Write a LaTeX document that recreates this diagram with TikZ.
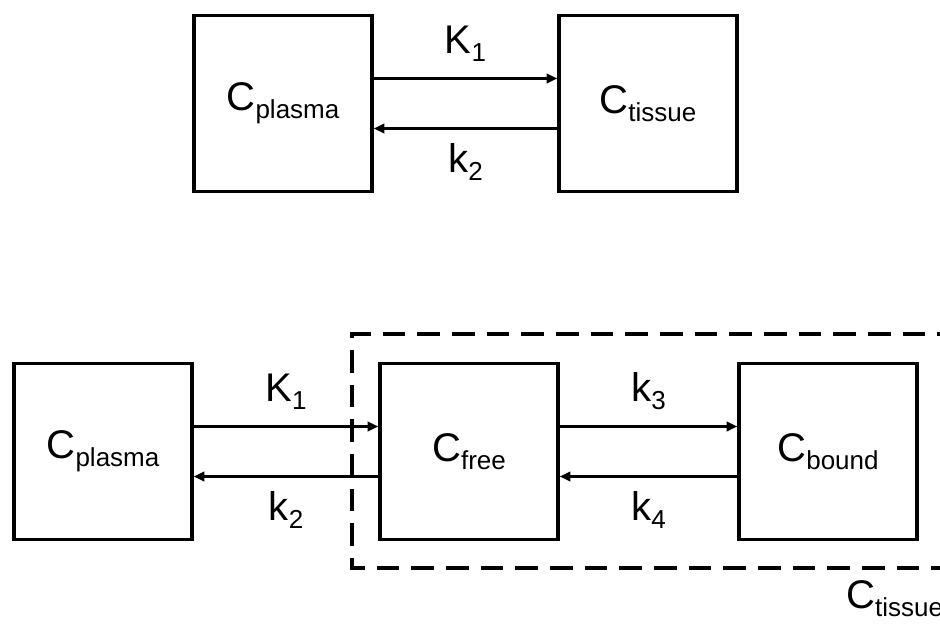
\documentclass[tikz,border=0pt]{standalone}
\usepackage{fontspec}
\setmainfont{Liberation Sans}
\usepackage{tikz}
\usetikzlibrary{arrows.meta, positioning}

\newcommand{\subtxt}[1]{\raisebox{-6pt}{\fontsize{19.5}{22}\selectfont #1}}
\newcommand{\conc}[1]{C\subtxt{#1}}

\tikzset{
  compartment/.style={draw, line width=2.5pt, minimum width=133.5pt, minimum height=132pt, inner sep=0pt, font=\fontsize{30}{36}\selectfont},
  flow/.style={line width=2.4pt, -{Triangle[length=8pt, width=7pt]}},
  ratelbl/.style={anchor=base, inner sep=0pt, font=\fontsize{30}{36}\selectfont},
  tissuebox/.style={line width=2.5pt, dash pattern=on 17pt off 9pt}
}

\begin{document}
\begin{tikzpicture}[x=0.75pt, y=-0.75pt]
        \useasboundingbox[fill=white] (0,0) rectangle (940,624);
        \node[compartment] (plasmaA) at (283,103.5) {\conc{plasma}};
        \node[compartment] (tissueA) at (648,103.5) {\conc{tissue}};
        \draw[flow] ([yshift=18.75pt]plasmaA.east) -- node[ratelbl, yshift=18.75pt] {K\subtxt{1}} ([yshift=18.75pt]tissueA.west);
        \draw[flow] ([yshift=-18.75pt]tissueA.west) -- node[ratelbl, yshift=-33pt] {k\subtxt{2}} ([yshift=-18.75pt]plasmaA.east);
        \draw[tissuebox] (960,334) -- (352,334) -- (352,568) -- (960,568);
        \node[compartment] (plasmaB) at (103,451.5) {\conc{plasma}};
        \node[compartment] (free) at (469,451.5) {\conc{free}};
        \node[compartment] (bound) at (828,451.5) {\conc{bound}};
        \draw[flow] ([yshift=18.75pt]plasmaB.east) -- node[ratelbl, yshift=18.75pt] {K\subtxt{1}} ([yshift=18.75pt]free.west);
        \draw[flow] ([yshift=-18.75pt]free.west) -- node[ratelbl, yshift=-33pt] {k\subtxt{2}} ([yshift=-18.75pt]plasmaB.east);
        \draw[flow] ([yshift=18.75pt]free.east) -- node[ratelbl, yshift=18.75pt] {k\subtxt{3}} ([yshift=18.75pt]bound.west);
        \draw[flow] ([yshift=-18.75pt]bound.west) -- node[ratelbl, yshift=-33pt] {k\subtxt{4}} ([yshift=-18.75pt]free.east);
        \node[ratelbl, anchor=base west] (tissueB) at (846,608) {\conc{tissue}};
    \end{tikzpicture}
\end{document}
